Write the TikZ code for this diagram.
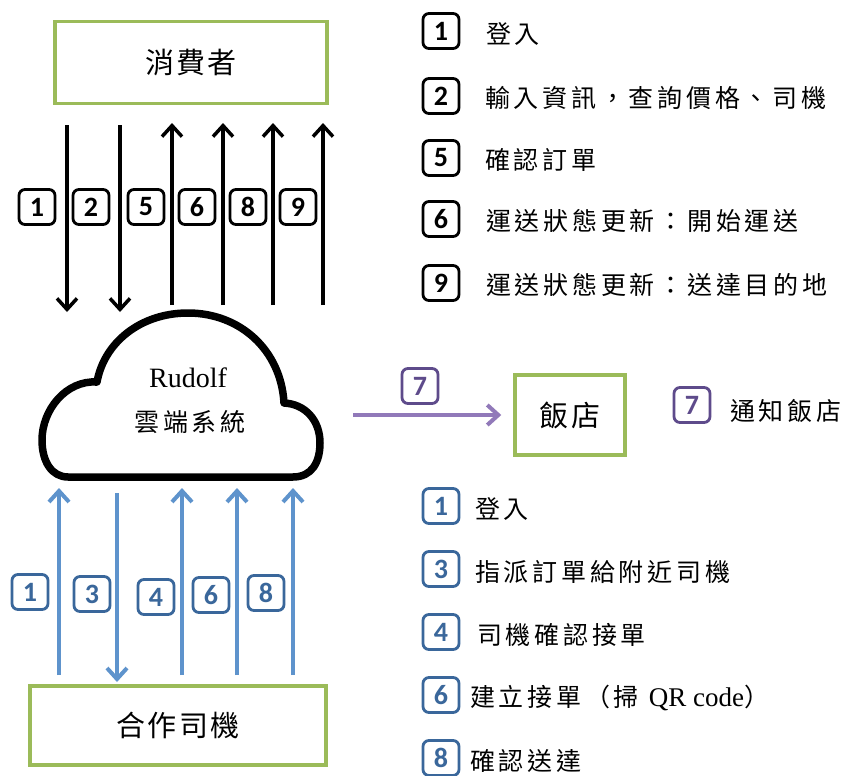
\documentclass[tikz,border=0pt]{standalone}
\usepackage{fontspec}
\setmainfont{Liberation Serif}
\newfontfamily\cjk[LetterSpace=15]{Noto Sans CJK TC}
\newfontfamily\cjkbox[LetterSpace=8]{Noto Sans CJK TC}
\newfontfamily\numf{Carlito}
\usetikzlibrary{arrows.meta}
\definecolor{grn}{HTML}{9BBB59}
\definecolor{bluel}{HTML}{5E93CC}
\definecolor{blued}{HTML}{3A679B}
\definecolor{purl}{HTML}{9179B9}
\definecolor{purd}{HTML}{5E4B8B}
\tikzset{
  entity/.style={draw=grn, line width=3.5pt, font=\cjkbox\fontsize{29}{32}\selectfont, inner sep=0pt},
  numbox/.style={draw=black, line width=2.8pt, rounded corners=6pt, minimum width=36pt, minimum height=35pt, inner sep=0pt, font=\numf\bfseries\fontsize{28}{28}\selectfont},
  bluebox/.style={numbox, draw=blued, text=blued},
  purbox/.style={numbox, draw=purd, text=purd},
  legtext/.style={anchor=west, inner sep=0pt, font=\cjk\fontsize{25}{28}\selectfont},
  blkarr/.style={line width=3.5pt, -{Straight Barb[length=11pt,width=20pt]}},
  bluarr/.style={draw=bluel, line width=4pt, -{Straight Barb[length=11pt,width=20pt]}},
  purarr/.style={draw=purl, line width=4pt, -{Straight Barb[length=11pt,width=20pt]}},
  cloudline/.style={line width=7.5pt, line join=round}
}
\begin{document}
\begin{tikzpicture}[x=1pt,y=-1pt]
\useasboundingbox (0,0) rectangle (844,776);
\fill[white] (0,0) rectangle (844,776);

% entities
\node[entity, minimum width=272pt, minimum height=82pt] (cons) at (191,62.5) {消費者};
\node[entity, minimum width=110pt, minimum height=80pt] (rest) at (570,415) {飯店};
\node[entity, minimum width=296pt, minimum height=79pt] (drv) at (178,725.5) {合作司機};

% cloud
\draw[cloudline] (68,477) -- (293,477)
  .. controls (312,477) and (320,462) .. (320,443)
  .. controls (320,420) and (305,404) .. (284,403)
  .. controls (281,350) and (240,313) .. (188,313)
  .. controls (140,313) and (104,343) .. (97,382)
  .. controls (66,380) and (42,410) .. (42,440)
  .. controls (42,462) and (52,477) .. (68,477) -- cycle;
\node[font=\fontsize{28}{30}\selectfont, inner sep=0pt] (rud) at (188,378) {Rudolf};
\node[font=\cjk\fontsize{25}{28}\selectfont, inner sep=0pt] (cloud) at (190,422) {雲端系統};

% consumer arrows
\foreach \x/\n in {67/a,120/b}{
  \coordinate (ts\n) at (\x,125); \coordinate (te\n) at (\x,312);
  \draw[blkarr] (ts\n) -- (te\n);
}
\foreach \x/\n in {172/c,223/d,273/e,323/f}{
  \coordinate (ts\n) at (\x,305); \coordinate (te\n) at (\x,123);
  \draw[blkarr] (ts\n) -- (te\n);
}
\foreach \x/\d in {37/1,91/2,146/5,197/6,248/8,298/9}{
  \node[numbox, fill=white] (tl\d) at (\x,207) {\d};
}

% driver arrows
\foreach \x/\n in {59/a,182/c,237/d,293/e}{
  \coordinate (bs\n) at (\x,675); \coordinate (be\n) at (\x,488);
  \draw[bluarr] (bs\n) -- (be\n);
}
\coordinate (bsb) at (117,493); \coordinate (beb) at (117,682);
\draw[bluarr] (bsb) -- (beb);
\foreach \x/\y/\d in {30/592/1,92/594/3,156/597/4,211/595/6,266/593/8}{
  \node[bluebox] (bl\d) at (\x,\y) {\d};
}

% restaurant arrow
\coordinate (ps) at (353,415);
\draw[purarr] (ps) -- ([xshift=-12pt]rest.west);
\node[purbox] (p7) at (420,386) {7};

% legend top
\node[numbox] (k1) at (441,31) {1};
\node[legtext] (t1) at (486,34) {登入};
\node[numbox] (k2) at (441,96) {2};
\node[legtext] (t2) at (485,98) {輸入資訊，查詢價格、司機};
\node[numbox] (k5) at (441,158) {5};
\node[legtext] (t5) at (485,160) {確認訂單};
\node[numbox] (k6) at (441,219) {6};
\node[legtext] (t6) at (486,221) {運送狀態更新：開始運送};
\node[numbox] (k9) at (441,283) {9};
\node[legtext] (t9) at (486,285) {運送狀態更新：送達目的地};

% legend restaurant
\node[purbox] (k7) at (692,405) {7};
\node[legtext] (t7) at (730,411) {通知飯店};

% legend bottom
\node[bluebox] (m1) at (441,506) {1};
\node[legtext] (u1) at (475,509) {登入};
\node[bluebox] (m3) at (441,569) {3};
\node[legtext] (u3) at (475,572) {指派訂單給附近司機};
\node[bluebox] (m4) at (441,632) {4};
\node[legtext] (u4) at (477,635) {司機確認接單};
\node[bluebox] (m6) at (441,695) {6};
\node[legtext] (u6) at (470,698) {建立接單（掃\hspace{10pt}{\rmfamily\fontsize{27}{28}\selectfont QR code}）};
\node[bluebox] (m8) at (441,758) {8};
\node[legtext] (u8) at (470,761) {確認送達};
\end{tikzpicture}
\end{document}
